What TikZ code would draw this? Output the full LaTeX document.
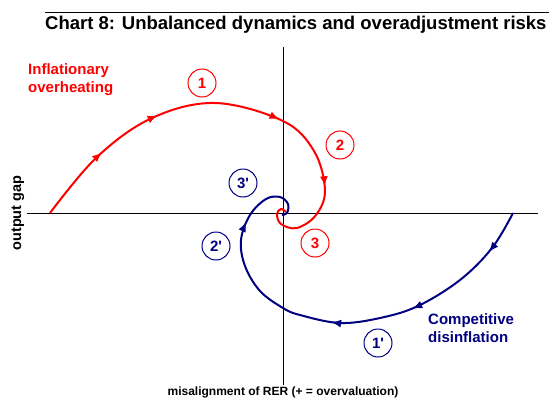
\documentclass[tikz,border=0pt]{standalone}
\usepackage{fontspec}
\setmainfont{Liberation Sans}
\usetikzlibrary{arrows.meta, positioning, decorations.markings}
\definecolor{overheating}{HTML}{FF0000}
\definecolor{disinflation}{HTML}{000080}

\begin{document}
\begin{tikzpicture}[
        x=1pt, y=-1pt,
        flowtip/.tip={Latex[length=10pt, width=8pt]},
        axisline/.style={black, line width=0.9pt},
        stagelabel/.style={
            circle,
            draw,
            line width=1pt,
            minimum size=28pt,
            inner sep=0pt,
            font=\bfseries\fontsize{15}{15}\selectfont
        },
        redstage/.style={stagelabel, draw=overheating, text=overheating},
        bluestage/.style={stagelabel, draw=disinflation, text=disinflation},
        regimetext/.style={
            align=left,
            inner sep=0pt,
            anchor=north west,
            font=\bfseries\fontsize{15}{18.5}\selectfont
        },
        redspiral/.style={
            overheating, line width=2pt,
            postaction={decorate},
            decoration={markings,
                mark=at position 80pt with {\arrow{flowtip}},
                mark=at position 147pt with {\arrow{flowtip}},
                mark=at position 273pt with {\arrow{flowtip}},
                mark=at position 358pt with {\arrow{flowtip}}}
        },
        bluespiral/.style={
            disinflation, line width=2pt,
            postaction={decorate},
            decoration={markings,
                mark=at position 46pt with {\arrow{flowtip}},
                mark=at position 142pt with {\arrow{flowtip}},
                mark=at position 225pt with {\arrow{flowtip}},
                mark=at position 379pt with {\arrow{flowtip}}}
        }
    ]
        \useasboundingbox (0,0) rectangle (549,399);

        % title and rule
        \draw[line width=0.9pt] (45,12) coordinate (ruleleft) -- (549,12) coordinate (ruleright);
        \node[anchor=base west, inner sep=0pt, font=\bfseries\fontsize{18.5}{22}\selectfont]
            (title) at (45,29) {Chart 8: Unbalanced dynamics and overadjustment risks};

        % axes
        \coordinate (origin) at (283,213);
        \draw[axisline] (27,213) coordinate (xleft) -- (538,213) coordinate (xright);
        \draw[axisline] (283,47) coordinate (ytop) -- (283,385) coordinate (ybottom);
        \node[rotate=90, font=\bfseries\fontsize{14.5}{14.5}\selectfont]
            (ylabel) at (18,213) {output gap};
        \node[font=\bfseries\fontsize{12}{12}\selectfont]
            (xlabel) at (283,392) {misalignment of RER (+ = overvaluation)};

        % the two spirals
        \draw[redspiral] plot[smooth, tension=0.6] coordinates {
            (50,213) (97,157) (152,118) (215,103) (283,121) (314,151)
            (325,190) (316,215) (297,228) (281,224) (277,214) (281,209) (286,212)};
        \draw[bluespiral] plot[smooth, tension=0.6] coordinates {
            (513,213) (492,248) (460,280) (418,306) (380,318) (340,323)
            (300,315) (283,308) (260,291) (245,266) (241,240) (250,215)
            (266,199) (280,197) (288,204) (287,213) (282,215)};

        % stage labels
        \node[redstage] (stageone) at (202,83) {1};
        \node[redstage] (stagetwo) at (340,145) {2};
        \node[redstage] (stagethree) at (315,243) {3};
        \node[bluestage] (stageoneb) at (378,343) {1\textquotesingle};
        \node[bluestage] (stagetwob) at (216,246) {2\textquotesingle};
        \node[bluestage] (stagethreeb) at (243,183) {3\textquotesingle};

        % regimes
        \node[regimetext, text=overheating] (overheat) at (28,63)
            {Inflationary\\overheating};
        \node[regimetext, text=disinflation] (disinfl) at (428,313)
            {Competitive\\disinflation};
    \end{tikzpicture}
\end{document}
